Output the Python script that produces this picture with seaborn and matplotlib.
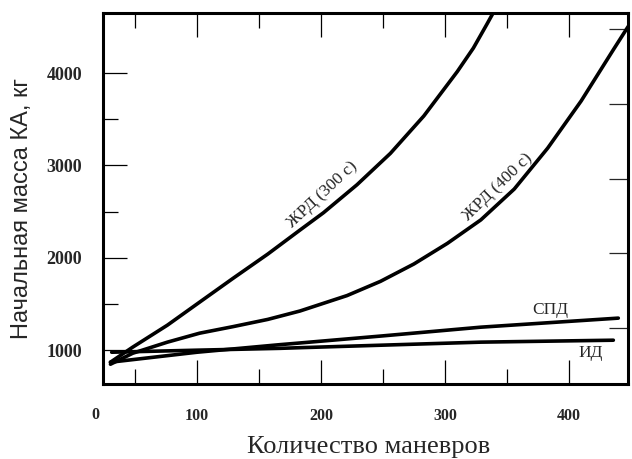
import pandas as pd
import seaborn as sns
import matplotlib.pyplot as plt
from matplotlib.ticker import FixedLocator

# values
zhrd300_x = [30, 48, 76, 102, 129, 157, 183, 202, 229, 256, 283, 310, 323, 334, 339]
zhrd300_y = [870, 1033, 1271, 1520, 1778, 2040, 2300, 2488, 2790, 3130, 3535, 4015, 4270, 4530, 4651]

zhrd400_x = [30, 48, 76, 102, 129, 157, 183, 221, 248, 275, 302, 329, 356, 383, 410, 436, 448]
zhrd400_y = [848, 967, 1087, 1184, 1255, 1333, 1424, 1591, 1745, 1933, 2156, 2410, 2744, 3187, 3697, 4252, 4504]

spd_x = [30, 100, 167, 183, 250, 329, 440]
spd_y = [870, 978, 1060, 1078, 1155, 1249, 1347]

id_x = [31, 100, 167, 183, 329, 436]
id_y = [978, 1000, 1020, 1027, 1087, 1108]

x_ticks = [100, 200, 300, 400]
y_ticks = [1000, 2000, 3000, 4000]

df = pd.concat([
    pd.DataFrame({'n': zhrd300_x, 'm': zhrd300_y, 'curve': 'ЖРД (300 с)'}),
    pd.DataFrame({'n': zhrd400_x, 'm': zhrd400_y, 'curve': 'ЖРД (400 с)'}),
    pd.DataFrame({'n': spd_x, 'm': spd_y, 'curve': 'СПД'}),
    pd.DataFrame({'n': id_x, 'm': id_y, 'curve': 'ИД'}),
])

sns.set_style('white')
plt.rcParams['font.family'] = ['Liberation Serif', 'DejaVu Serif']

fig, ax = plt.subplots(figsize=(6.32, 4.59), dpi=100)
fig.subplots_adjust(left=0.163, right=0.994, bottom=0.163, top=0.972)

sns.lineplot(data=df, x='n', y='m', hue='curve', units='curve', estimator=None,
             palette=['black'] * 4, linewidth=2.6, legend=False, sort=False, ax=ax)
for ln in ax.lines:
    ln.set_solid_joinstyle('round')

ax.set_xlim(24, 448)
ax.set_ylim(632, 4651)

for s in ax.spines.values():
    s.set_linewidth(2.2)
    s.set_color('black')

ax.xaxis.set_major_locator(FixedLocator(x_ticks))
ax.xaxis.set_minor_locator(FixedLocator([50, 150, 250, 350]))
ax.yaxis.set_major_locator(FixedLocator(y_ticks))
ax.yaxis.set_minor_locator(FixedLocator([1500, 2500, 3500]))
ax.tick_params(which='both', direction='in', top=True, bottom=True, left=True, right=False,
               width=0.9, color='black')
ax.tick_params(which='major', length=17, pad=17)
ax.tick_params(which='minor', length=11)
ax.tick_params(axis='x', labelsize=11.5)
ax.tick_params(axis='y', labelsize=13, pad=15)
for lab in ax.get_xticklabels() + ax.get_yticklabels():
    lab.set_fontweight('bold')

# right-hand ticks of the original sit on their own spacing
sec = ax.secondary_yaxis('right')
sec.set_yticks([1238, 2051, 2853, 3665, 4478])
sec.tick_params(direction='in', length=14, width=0.9, labelright=False)
sec.spines['right'].set_visible(False)

ax.text(17.5, -0.062, '0', transform=ax.get_xaxis_transform(), ha='center', va='top',
        fontsize=11.5, fontweight='bold', clip_on=False)

ax.set_xlabel('Количество маневров', fontsize=19)
ax.xaxis.set_label_coords(0.505, -0.14)
ax.set_ylabel('Начальная масса КА, кг', fontsize=17, family=['Liberation Sans', 'DejaVu Sans'])
ax.yaxis.set_label_coords(-0.133, 0.474)

ax.text(201, 2679, 'ЖРД (300 с)', rotation=43, rotation_mode='anchor', ha='center', va='center', fontsize=12.5)
ax.text(343, 2766, 'ЖРД (400 с)', rotation=44, rotation_mode='anchor', ha='center', va='center', fontsize=12.5)
ax.text(385, 1433, 'СПД', ha='center', va='center', fontsize=12.5)
ax.text(418, 967, 'ИД', ha='center', va='center', fontsize=12.5)

fig.savefig('out.png', dpi=100)
